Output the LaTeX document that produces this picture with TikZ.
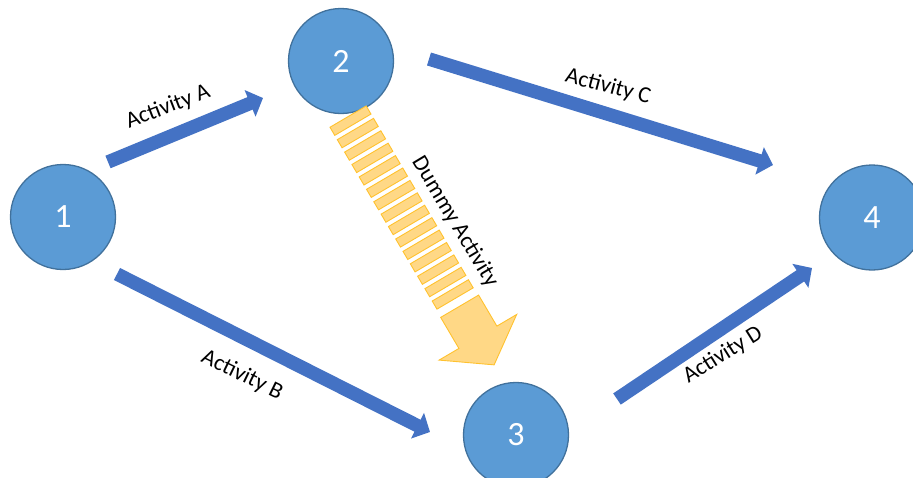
\documentclass[tikz,border=0pt]{standalone}
\usepackage{fontspec}
\setmainfont{Carlito}
\usetikzlibrary{arrows.meta}
\definecolor{nodefill}{HTML}{5B9BD5}
\definecolor{nodeline}{HTML}{41719C}
\definecolor{arrowblue}{HTML}{4472C4}
\definecolor{dummyfill}{HTML}{FFD886}
\definecolor{dummyline}{HTML}{FFC22E}
\begin{document}
\begin{tikzpicture}[x=1pt,y=-1pt,
  event/.style={circle, fill=nodefill, draw=nodeline, line width=1.3pt,
    minimum size=105pt, inner sep=0pt, text=white,
    font=\fontsize{34}{34}\selectfont},
  activity/.style={draw=arrowblue, line width=13.5pt,
    -{Triangle[width=28pt,length=14pt]}},
  lbl/.style={font=\fontsize{23}{23}\selectfont, text=black, inner sep=0pt},
  dummy/.style={fill=dummyfill, draw=dummyline, line width=0.9pt, line join=miter}
]
\useasboundingbox (0,0) rectangle (913,477);
\fill[white] (0,0) rectangle (913,477);

% events
\node[event] (n1) at (63,217) {1};
\node[event] (n2) at (341,61) {2};
\node[event] (n3) at (516,435) {3};
\node[event] (n4) at (872,217.5) {4};

% arrow end points
\coordinate (a1) at (108,162);  \coordinate (a2) at (263,98);
\coordinate (b1) at (117,274);  \coordinate (b2) at (430,432);
\coordinate (c1) at (429,59);   \coordinate (c2) at (773,165);
\coordinate (d1) at (617,399);  \coordinate (d2) at (812,268);

\draw[activity] (a1) -- (a2);
\draw[activity] (b1) -- (b2);
\draw[activity] (c1) -- (c2);
\draw[activity] (d1) -- (d2);

% dummy activity (striped arrow)
\coordinate (s0) at (348.1,116.6);
\begin{scope}[shift={(348.1,116.6)}, x={(0.507pt,-0.862pt)}, y={(0.862pt,0.507pt)}]
  \foreach \k in {0,...,14} {
    \filldraw[dummy] ({\k*14.4},-21) -- ({\k*14.4+9.4},-21) -- ({\k*14.4+9.4},21) -- ({\k*14.4},21) -- cycle;
  }
  \filldraw[dummy] (220,-22) -- (256,-22) -- (256,-45) -- (288,0) -- (256,45) -- (256,22) -- (220,22) -- cycle;
\end{scope}

% labels
\node[lbl, rotate=21] (la) at (168,107) {Activity A};
\node[lbl, rotate=-26] (lb) at (242,375) {Activity B};
\node[lbl, rotate=-15] (lc) at (608,87) {Activity C};
\node[lbl, rotate=32] (ld) at (723,355) {Activity D};
\node[lbl, rotate=-59] (ldm) at (455,222) {Dummy Activity};
\end{tikzpicture}
\end{document}
